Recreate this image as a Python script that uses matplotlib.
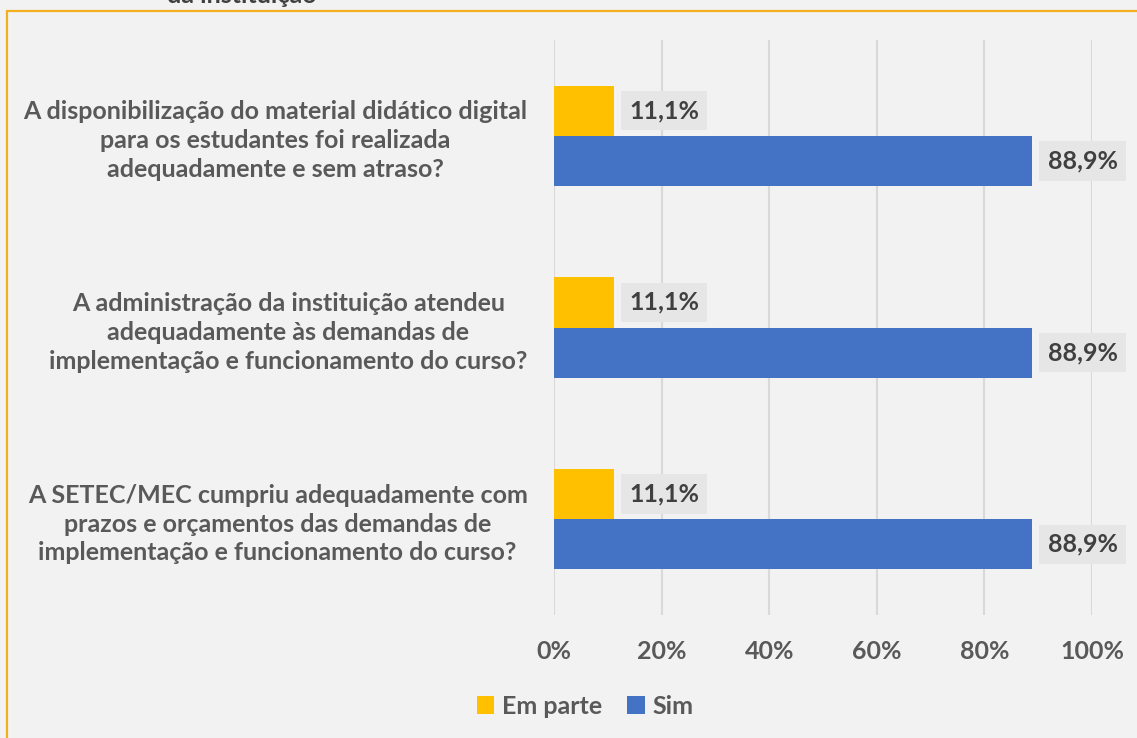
import matplotlib.pyplot as plt
from matplotlib.patches import Rectangle
import numpy as np

plt.rcParams['font.family'] = ['Lato', 'DejaVu Sans']
plt.rcParams['font.weight'] = 'bold'

# data
perguntas = [
    "A disponibilização do material didático digital\npara os estudantes foi realizada\nadequadamente e sem atraso?",
    "A administração da instituição atendeu\nadequadamente às demandas de\nimplementação e funcionamento do curso?",
    "A SETEC/MEC cumpriu adequadamente com\nprazos e orçamentos das demandas de\nimplementação e funcionamento do curso?",
]
em_parte = [11.1, 11.1, 11.1]
sim = [88.9, 88.9, 88.9]
series = ["Em parte", "Sim"]

W, H = 1137, 738
fig = plt.figure(figsize=(W / 100, H / 100), dpi=100, facecolor='#F2F2F2')
ax = fig.add_axes([554 / W, 1 - 615 / H, (1092 - 554) / W, (615 - 40) / H])
ax.set_facecolor('#F2F2F2')

y = np.arange(len(perguntas))
h = 0.262
b1 = ax.barh(y - h / 2, em_parte, height=h, color='#FFC000', label=series[0])
b2 = ax.barh(y + h / 2, sim, height=h, color='#4472C4', label=series[1])

for bars in (b1, b2):
    for r in bars:
        v = r.get_width()
        ax.annotate(f"{v:.1f}%".replace('.', ','),
                    (v, r.get_y() + r.get_height() / 2),
                    xytext=(11, 0), textcoords='offset points',
                    ha='left', va='center', fontsize=18, color='#404040',
                    bbox=dict(boxstyle='square,pad=0.33', fc='#E6E6E6', ec='none'))

ax.set_xlim(0, 100)
ax.set_ylim(2.5, -0.5)
ax.set_xticks(np.arange(0, 101, 20))
ax.set_xticklabels([f"{t}%" for t in range(0, 101, 20)])
ax.set_yticks(y)
ax.set_yticklabels(perguntas, multialignment='center', linespacing=1.3)
ax.tick_params(axis='y', length=0, pad=19, labelsize=18, labelcolor='#595959')
ax.tick_params(axis='x', length=0, pad=18, labelsize=18, labelcolor='#595959')
ax.grid(axis='x', color='#D9D9D9', linewidth=1.5)
ax.set_axisbelow(True)
for s in ax.spines.values():
    s.set_visible(False)

fig.legend(handles=[b1, b2], loc='center', bbox_to_anchor=(585 / W, 1 - 706 / H),
           ncol=2, frameon=False, fontsize=18, labelcolor='#595959',
           handlelength=0.7, handleheight=0.7, handletextpad=0.3, columnspacing=1.0)

# cut-off title and outer frame
fig.text(242 / W, 1 - 3 / H, "da instituição", ha='center', va='baseline',
         fontsize=18, color='#404040')
fig.patches.append(Rectangle((7 / W, -0.1), 1.2, 1 - 11 / H + 0.1, transform=fig.transFigure,
                             fill=False, ec='#F2B01E', lw=1.6))

fig.savefig('out.png', dpi=100, facecolor=fig.get_facecolor())
